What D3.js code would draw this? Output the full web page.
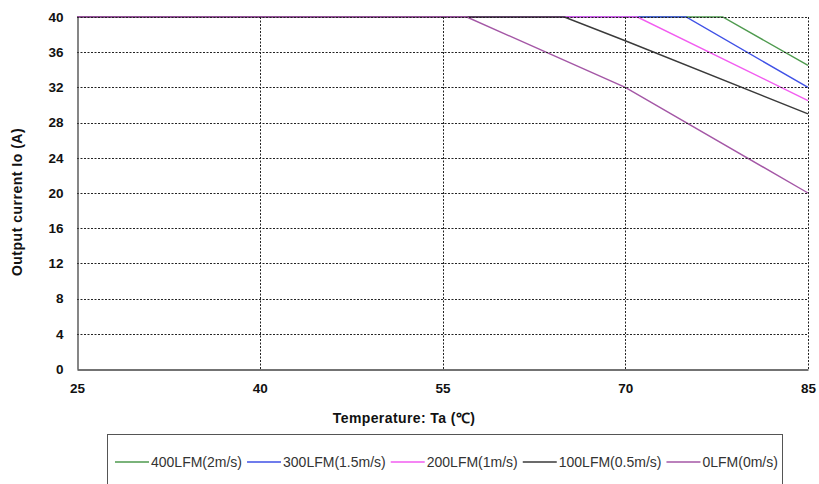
<!DOCTYPE html>
<html>
<head>
<meta charset="utf-8">
<script src="https://cdn.jsdelivr.net/npm/d3@7/dist/d3.min.js"></script>
<style>
  html, body { margin: 0; padding: 0; background: #fff; }
  svg { display: block; font-family: "Liberation Sans", Arial, sans-serif; }
</style>
</head>
<body>
<svg id="chart" width="819" height="484"></svg>
<script>
// Derating curves: output current vs ambient temperature for each airflow
const seriesNames = ["400LFM(2m/s)", "300LFM(1.5m/s)", "200LFM(1m/s)", "100LFM(0.5m/s)", "0LFM(0m/s)"];
const seriesColors = ["#4e9a4e", "#3f51e6", "#f25cf0", "#3a3a3a", "#a457a6"];

const temp400 = [25, 78, 85];
const curr400 = [40, 40, 34.5];
const temp300 = [25, 75, 85];
const curr300 = [40, 40, 32];
const temp200 = [25, 71, 85];
const curr200 = [40, 40, 30.5];
const temp100 = [25, 65, 70, 85];
const curr100 = [40, 40, 37.3, 29];
const temp0 = [25, 57, 70, 85];
const curr0 = [40, 40, 32, 20];

const xTicks = [25, 40, 55, 70, 85];
const yTicks = [0, 4, 8, 12, 16, 20, 24, 28, 32, 36, 40];

const seriesTemps = [temp400, temp300, temp200, temp100, temp0];
const seriesCurrents = [curr400, curr300, curr200, curr100, curr0];

const svg = d3.select("#chart");
const plot = { left: 77, right: 808, top: 17, bottom: 369 };

const x = d3.scaleLinear().domain([25, 85]).range([plot.left, plot.right]);
const y = d3.scaleLinear().domain([0, 40]).range([plot.bottom, plot.top]);

// Curves (lower-airflow curves sit on top along the 40 A plateau)
const line = d3.line().x(d => x(d[0])).y(d => y(d[1]));
seriesNames.forEach((name, i) => {
  const pts = seriesTemps[i].map((t, j) => [t, seriesCurrents[i][j]]);
  svg.append("path")
    .datum(pts)
    .attr("d", line)
    .attr("fill", "none")
    .attr("stroke", seriesColors[i])
    .attr("stroke-width", 1.4);
});

// Dashed grid
const grid = svg.append("g").attr("stroke", "#222").attr("stroke-width", 1)
  .attr("stroke-dasharray", "2,1.5");
yTicks.filter(v => v > 0).forEach(v => {
  grid.append("line")
    .attr("x1", plot.left).attr("x2", plot.right)
    .attr("y1", Math.round(y(v)) + 0.5).attr("y2", Math.round(y(v)) + 0.5);
});
xTicks.filter(v => v > 25).forEach(v => {
  grid.append("line")
    .attr("x1", Math.round(x(v)) + 0.5).attr("x2", Math.round(x(v)) + 0.5)
    .attr("y1", plot.top).attr("y2", plot.bottom);
});

// Axes
const yAxis = d3.axisLeft(y).tickValues(yTicks).tickSize(0).tickPadding(14);
const xAxis = d3.axisBottom(x).tickValues(xTicks).tickSize(0).tickPadding(14);

const gy = svg.append("g").attr("transform", `translate(${plot.left + 0.5},0)`).call(yAxis);
const gx = svg.append("g").attr("transform", `translate(0,${plot.bottom + 0.5})`).call(xAxis);
[gx, gy].forEach(g => {
  g.select(".domain").attr("stroke", "#444").attr("stroke-width", 1.3);
  g.selectAll("text")
    .attr("fill", "#111")
    .style("font-family", "'Liberation Sans', Arial, sans-serif")
    .style("font-size", "13.5px")
    .style("font-weight", "bold");
});

// Axis titles
svg.append("text")
  .attr("x", 404).attr("y", 423)
  .attr("text-anchor", "middle")
  .attr("fill", "#111")
  .style("font-size", "14px").style("font-weight", "bold")
  .style("letter-spacing", "0.4px")
  .text("Temperature: Ta (℃)");

svg.append("text")
  .attr("transform", "translate(22,202) rotate(-90)")
  .attr("text-anchor", "middle")
  .attr("fill", "#111")
  .style("font-size", "14px").style("font-weight", "bold")
  .style("letter-spacing", "0.5px")
  .text("Output current  Io (A)");

// Legend
svg.append("rect")
  .attr("x", 107.5).attr("y", 434.5)
  .attr("width", 675).attr("height", 80)
  .attr("fill", "#fff").attr("stroke", "#555").attr("stroke-width", 1);

let lx = 115;
const ly = 462;
seriesNames.forEach((name, i) => {
  svg.append("line")
    .attr("x1", lx).attr("x2", lx + 34)
    .attr("y1", ly).attr("y2", ly)
    .attr("stroke", seriesColors[i]).attr("stroke-width", 1.5);
  const t = svg.append("text")
    .attr("x", lx + 36).attr("y", ly + 5)
    .attr("fill", "#333")
    .style("font-size", "14px")
    .text(name);
  lx += 36 + t.node().getComputedTextLength() + 5;
});
</script>
</body>
</html>
